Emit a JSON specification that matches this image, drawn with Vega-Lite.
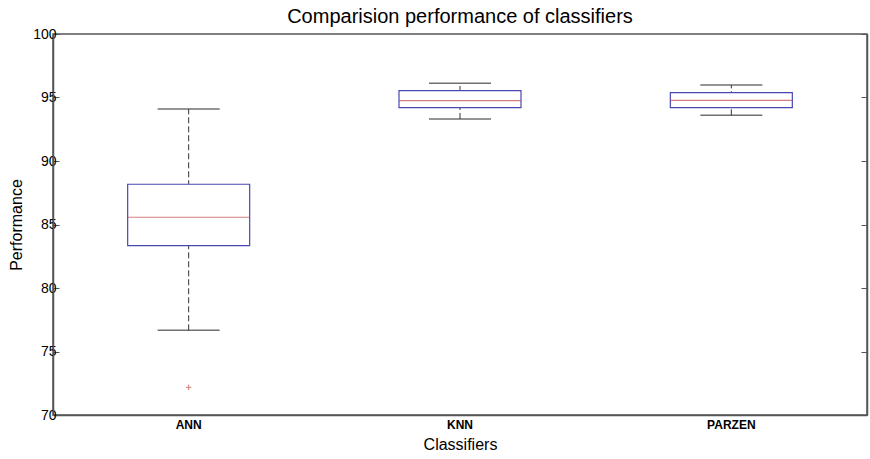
{
  "$schema": "https://vega.github.io/schema/vega-lite/v6.json",
  "width": 814,
  "height": 381,
  "autosize": {"type": "none"},
  "padding": {"left": 53, "top": 34, "right": 3, "bottom": 44},
  "background": "white",
  "config": {
    "font": "Liberation Sans",
    "view": {"stroke": "#555555", "strokeWidth": 1.5},
    "axis": {"grid": false}
  },
  "title": {
    "text": "Comparision performance of classifiers",
    "fontSize": 20,
    "fontWeight": "normal",
    "color": "#000000",
    "offset": 0,
    "anchor": "middle"
  },
  "data": {
    "values": [
      {"classifier": "ANN", "lower": 76.67, "q1": 83.33, "median": 85.57, "q3": 88.17, "upper": 94.1},
      {"classifier": "KNN", "lower": 93.31, "q1": 94.2, "median": 94.75, "q3": 95.54, "upper": 96.12},
      {"classifier": "PARZEN", "lower": 93.6, "q1": 94.2, "median": 94.78, "q3": 95.38, "upper": 95.98}
    ]
  },
  "encoding": {
    "x": {
      "field": "classifier",
      "type": "nominal",
      "sort": ["ANN", "KNN", "PARZEN"],
      "scale": {"paddingInner": 0, "paddingOuter": 0},
      "axis": {
        "title": "Classifiers",
        "titleFontSize": 16,
        "titleFontWeight": "normal",
        "titleColor": "#000000",
        "titlePadding": 6,
        "labelAngle": 0,
        "labelFontWeight": "bold",
        "labelFontSize": 12,
        "labelColor": "#000000",
        "labelPadding": 4,
        "ticks": false,
        "domainColor": "#555555",
        "domainWidth": 1.5
      }
    }
  },
  "layer": [
    {
      "mark": {"type": "rule", "strokeDash": [6, 3], "color": "#333333", "strokeWidth": 1},
      "encoding": {
        "y": {
          "field": "lower",
          "type": "quantitative",
          "scale": {"domain": [70, 100], "nice": false, "zero": false},
          "axis": {
            "title": "Performance",
            "titleFontSize": 16,
            "titleFontWeight": "normal",
            "titleColor": "#000000",
            "titlePadding": 8,
            "values": [70, 75, 80, 85, 90, 95, 100],
            "labelFontSize": 14,
            "labelColor": "#000000",
            "labelPadding": 3,
            "tickSize": -6,
            "tickColor": "#555555",
            "domainColor": "#555555",
            "domainWidth": 1.5
          }
        },
        "y2": {"field": "upper"}
      }
    },
    {
      "mark": {"type": "bar", "size": 122, "fill": "white", "stroke": "#4848b4", "strokeWidth": 1.2},
      "encoding": {
        "y": {"field": "q1", "type": "quantitative", "axis": null},
        "y2": {"field": "q3"}
      }
    },
    {
      "mark": {"type": "tick", "size": 122, "thickness": 1.2, "color": "#c04848", "orient": "horizontal"},
      "encoding": {"y": {"field": "median", "type": "quantitative", "axis": null}}
    },
    {
      "mark": {"type": "tick", "size": 62, "thickness": 1.5, "color": "#333333", "orient": "horizontal"},
      "encoding": {"y": {"field": "upper", "type": "quantitative", "axis": null}}
    },
    {
      "mark": {"type": "tick", "size": 62, "thickness": 1.5, "color": "#333333", "orient": "horizontal"},
      "encoding": {"y": {"field": "lower", "type": "quantitative", "axis": null}}
    },
    {
      "data": {"values": [{"classifier": "ANN", "outlier": 72.18}]},
      "mark": {"type": "point", "shape": "M-1,0L1,0M0,-1L0,1", "filled": false, "stroke": "#c04848", "strokeWidth": 1, "size": 30},
      "encoding": {"y": {"field": "outlier", "type": "quantitative", "axis": null}}
    },
    {
      "mark": {"type": "tick", "opacity": 0, "orient": "horizontal"},
      "encoding": {
        "y": {
          "field": "median",
          "type": "quantitative",
          "axis": {
            "orient": "right",
            "title": null,
            "labels": false,
            "values": [70, 75, 80, 85, 90, 95, 100],
            "tickSize": -6,
            "tickColor": "#555555",
            "domainColor": "#555555",
            "domainWidth": 1.5
          }
        }
      }
    }
  ],
  "resolve": {"axis": {"y": "independent"}}
}
